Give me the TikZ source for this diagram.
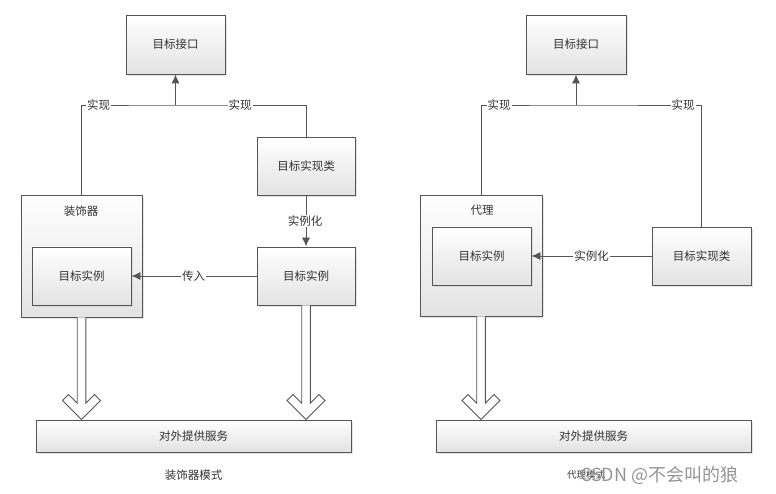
\documentclass[tikz,border=0pt]{standalone}
\usepackage{fontspec}
\newfontfamily\cjk{Noto Sans CJK SC}
\usetikzlibrary{arrows.meta,shadows,calc}
\definecolor{ln}{HTML}{555555}
\definecolor{tx}{HTML}{333333}
\definecolor{shd}{HTML}{C8C8C8}
\begin{document}
\begin{tikzpicture}[x=1pt,y=-1pt,
  box/.style={draw=ln,line width=0.9pt,top color=white,bottom color=black!11,
    drop shadow={shadow xshift=1.6pt,shadow yshift=-1.6pt,fill=shd},
    inner sep=0pt,font=\cjk\fontsize{11.5}{13}\selectfont,text=tx},
  lbl/.style={fill=white,inner sep=1pt,font=\cjk\fontsize{11.5}{13}\selectfont,text=tx},
  conn/.style={draw=ln,line width=0.9pt},
  arr/.style={conn,-{Latex[length=9pt,width=8pt]}},
  hollow/.style={draw=ln,line width=0.9pt,fill=white,line join=miter}]
\useasboundingbox (0,0) rectangle (776,494);
\newcommand\bigarrow[2]{%
  \filldraw[hollow] let \p1=(#1), \p2=(#1 |- #2) in
    (\x1-4.3pt,\y1) -- (\x1-4.3pt,\y2+16.3pt) -- (\x1-13pt,\y2+25pt) -- (\x1-19pt,\y2+19pt)
    -- (\x1,\y2) -- (\x1+19pt,\y2+19pt) -- (\x1+13pt,\y2+25pt) -- (\x1+4.3pt,\y2+16.3pt)
    -- (\x1+4.3pt,\y1);}

% ---------- left: decorator ----------
\node[box,minimum width=99pt,minimum height=59pt] (iface1) at (175.5,44.5) {目标接口};
\node[box,minimum width=98pt,minimum height=58pt] (impl1) at (306,166) {目标实现类};
\node[box,minimum width=121pt,minimum height=122pt] (deco) at (81.5,256) {};
\node[lbl,fill=none] (decolbl) at (81,211) {装饰器};
\node[box,minimum width=99pt,minimum height=58pt] (inst1in) at (81.5,276) {目标实例};
\node[box,minimum width=98pt,minimum height=58pt] (inst1r) at (306,276) {目标实例};
\node[box,minimum width=315pt,minimum height=32pt] (serv1) at (193.5,436) {对外提供服务};

\coordinate (j1) at (175.5,105);
\draw[conn] (deco.north) |- (j1) -| (impl1.north);
\draw[arr] (j1) -- (iface1.south);
\node[lbl] (l1a) at (98.5,105) {实现};
\node[lbl] (l1b) at (240,105) {实现};
\draw[arr] (impl1.south) -- (inst1r.north);
\node[lbl] (l1c) at (305,221) {实例化};
\draw[arr] (inst1r.west) -- (inst1in.east);
\node[lbl] (l1d) at (193.5,276) {传入};
\bigarrow{deco.south}{serv1.north}
\bigarrow{inst1r.south}{serv1.north}
\node[lbl,fill=none] (cap1) at (193.5,475) {装饰器模式};

% ---------- right: proxy ----------
\node[box,minimum width=100pt,minimum height=59pt] (iface2) at (576,44.5) {目标接口};
\node[box,minimum width=122pt,minimum height=121pt] (proxy) at (481,255.5) {};
\node[lbl,fill=none] (proxylbl) at (482,210) {代理};
\node[box,minimum width=99pt,minimum height=58pt] (inst2) at (481.5,256) {目标实例};
\node[box,minimum width=99pt,minimum height=58pt] (impl2) at (701.5,256) {目标实现类};
\node[box,minimum width=315pt,minimum height=32pt] (serv2) at (593.5,436) {对外提供服务};

\coordinate (j2) at (576,105);
\draw[conn] (proxy.north) |- (j2) -| (impl2.north);
\draw[arr] (j2) -- (iface2.south);
\node[lbl] (l2a) at (499,105) {实现};
\node[lbl] (l2b) at (683,105) {实现};
\draw[arr] (impl2.west) -- (inst2.east);
\node[lbl] (l2c) at (591.5,256) {实例化};
\bigarrow{proxy.south}{serv2.north}
\node[lbl,fill=none,font=\cjk\fontsize{9.5}{11}\selectfont,anchor=west] (cap2) at (566,475) {代理模式};
\node[anchor=west,inner sep=0pt,text=black!42,font=\cjk\fontsize{18}{20}\selectfont] (wm) at (580,475) {CSDN @不会叫的狼};
\end{tikzpicture}
\end{document}
